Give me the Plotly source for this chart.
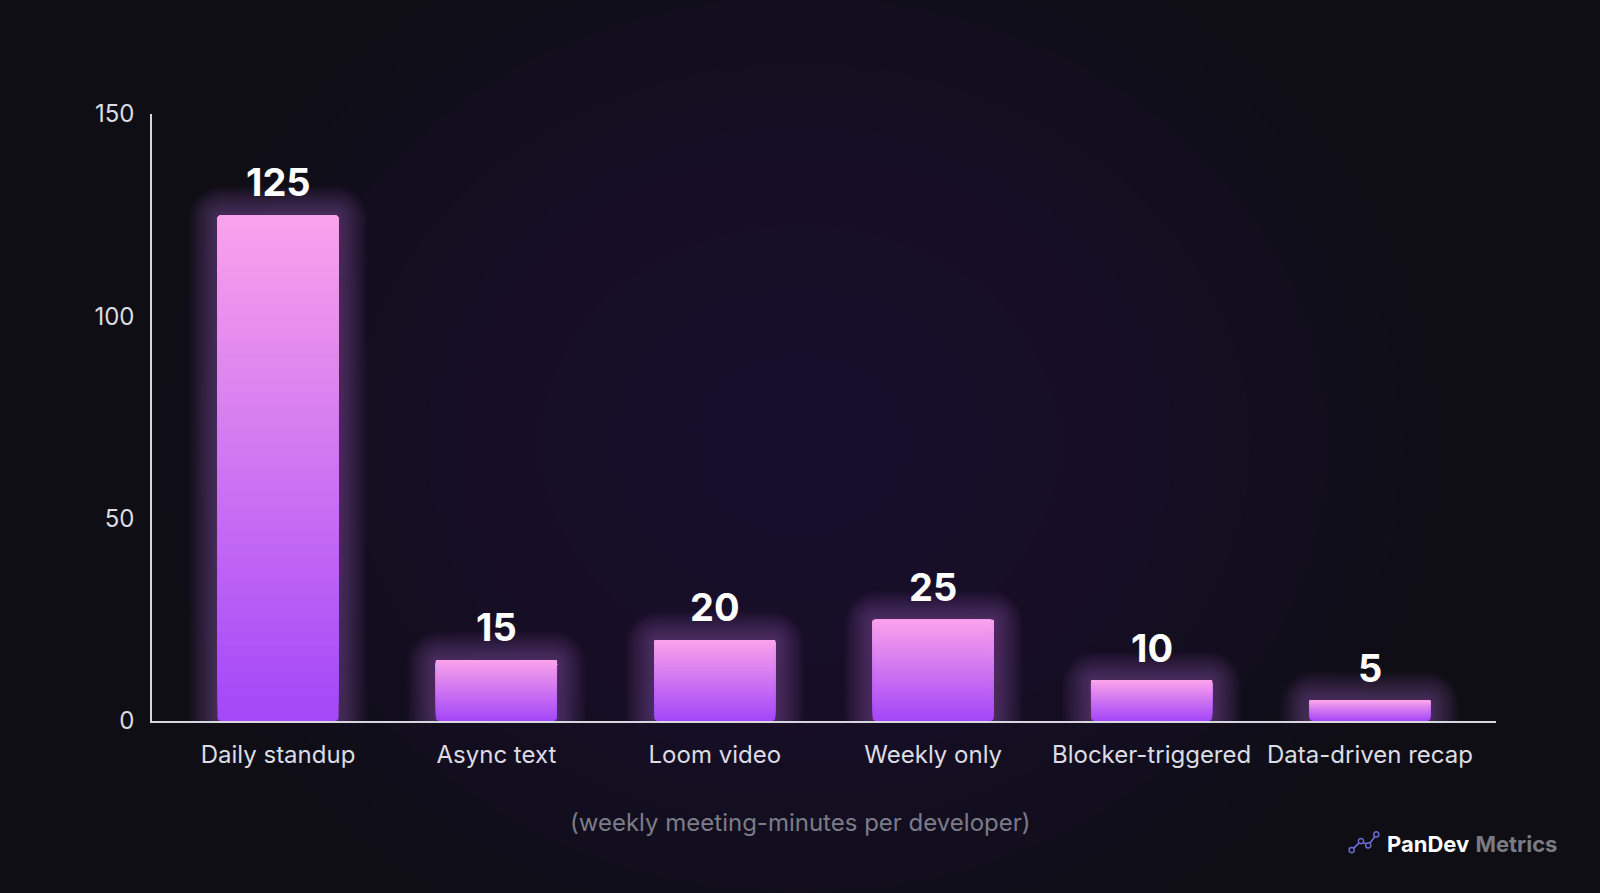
import plotly.graph_objects as go

# ---- data ----
categories = ["Daily standup", "Async text", "Loom video", "Weekly only",
              "Blocker-triggered", "Data-driven recap"]
values = [125, 15, 20, 25, 10, 5]
y_ticks = [0, 50, 100, 150]
subtitle = "(weekly meeting-minutes per developer)"

# ---- style ----
BG = "#0e0e14"
FONT = "Inter, 'Noto Sans', sans-serif"
TOP = (250, 162, 236)
BOTTOM = (164, 72, 248)
N = 40
BAR_W = 0.555

# plot area in pixels
L, R, T, B = 152, 104, 114, 171.5
W = 1600 - L - R
H = 893 - T - B
PX_X = 6.154 / W          # data units per pixel (x)
PX_Y = 150.0 / H          # data units per pixel (y)


def px2paper(px, py):
    return (px - L) / W, (893 - B - py) / H


fig = go.Figure()
xs = list(range(len(categories)))

# glow layers
for k in range(16, 0, -1):
    pad = k * 1.8
    fig.add_trace(go.Bar(
        x=xs, y=[v + 2 * pad * PX_Y for v in values],
        base=[-pad * PX_Y] * len(values),
        width=BAR_W + 2 * pad * PX_X,
        marker=dict(color="rgba(195,95,230,0.028)", line=dict(width=0),
                    cornerradius=int(4 + pad)),
        hoverinfo="skip", showlegend=False))

# gradient bars: each slice spans from its base up to the bar top
for i in range(N):
    t = i / (N - 1)
    c = tuple(int(BOTTOM[j] + (TOP[j] - BOTTOM[j]) * t) for j in range(3))
    fig.add_trace(go.Bar(
        x=xs, y=[v * (1 - i / N) for v in values],
        base=[v * i / N for v in values],
        width=BAR_W,
        marker=dict(color="rgb(%d,%d,%d)" % c, line=dict(width=0), cornerradius=4),
        hoverinfo="skip", showlegend=False))

# value labels
for x, v in zip(xs, values):
    fig.add_annotation(x=x, y=v, text="<b>%d</b>" % v, showarrow=False,
                       yanchor="bottom", yshift=8,
                       font=dict(family=FONT, size=38, color="#ffffff"))

# radial background glow
shapes = []
cx, cy = 800, 445
for k in range(16):
    r = 640 - k * 38
    x0, y0 = px2paper(cx - r, cy - r * 0.85)
    x1, y1 = px2paper(cx + r, cy + r * 0.85)
    shapes.append(dict(type="circle", xref="paper", yref="paper",
                       x0=x0, x1=x1, y0=y0, y1=y1, layer="below",
                       fillcolor="rgba(30,25,54,0.09)", line=dict(width=0)))

# logo icon
pts = [(1351.7, 850.7), (1361, 841.7), (1368.3, 846), (1376.3, 835)]
path = "M " + " L ".join("%f,%f" % px2paper(px, py) for px, py in pts)
shapes.append(dict(type="path", xref="paper", yref="paper", path=path,
                   line=dict(color="#6c70d8", width=1.6)))
for px, py in pts:
    x0, y0 = px2paper(px - 2.6, py + 2.6)
    x1, y1 = px2paper(px + 2.6, py - 2.6)
    shapes.append(dict(type="circle", xref="paper", yref="paper",
                       x0=x0, x1=x1, y0=y0, y1=y1,
                       fillcolor=BG, line=dict(color="#6c70d8", width=1.4)))

sx, sy = px2paper(800, 823)
fig.add_annotation(xref="paper", yref="paper", x=sx, y=sy, text=subtitle,
                   showarrow=False, xanchor="center", yanchor="middle",
                   font=dict(family=FONT, size=24, color="#7c7c88"))
lx, ly = px2paper(1385, 845)
fig.add_annotation(xref="paper", yref="paper", x=lx, y=ly,
                   text="<b>PanDev</b> <b><span style='color:#7a7a82'>Metrics</span></b>",
                   showarrow=False, xanchor="left", yanchor="middle",
                   font=dict(family=FONT, size=22, color="#ffffff"))

fig.update_layout(
    width=1600, height=893,
    margin=dict(l=L, r=R, t=T, b=B),
    paper_bgcolor=BG, plot_bgcolor="rgba(0,0,0,0)",
    barmode="overlay", showlegend=False, shapes=shapes,
    font=dict(family=FONT),
    xaxis=dict(range=[-0.577, 5.577], tickmode="array", tickvals=xs,
               ticktext=categories, showgrid=False, zeroline=False,
               showline=True, linecolor="#d6d6de", linewidth=2,
               ticks="", ticklabelstandoff=11,
               tickfont=dict(family=FONT, size=24, color="#dcdce4")),
    yaxis=dict(range=[0, 150], tickvals=y_ticks, showgrid=False, zeroline=False,
               showline=True, linecolor="#d6d6de", linewidth=1.5,
               ticks="", ticklabelstandoff=11,
               tickfont=dict(family=FONT, size=24, color="#dcdce4")),
)

fig.write_html("out.html", config={"displayModeBar": False},
               post_script="document.body.style.margin='0';"
                           "document.body.style.background='%s';" % BG)
